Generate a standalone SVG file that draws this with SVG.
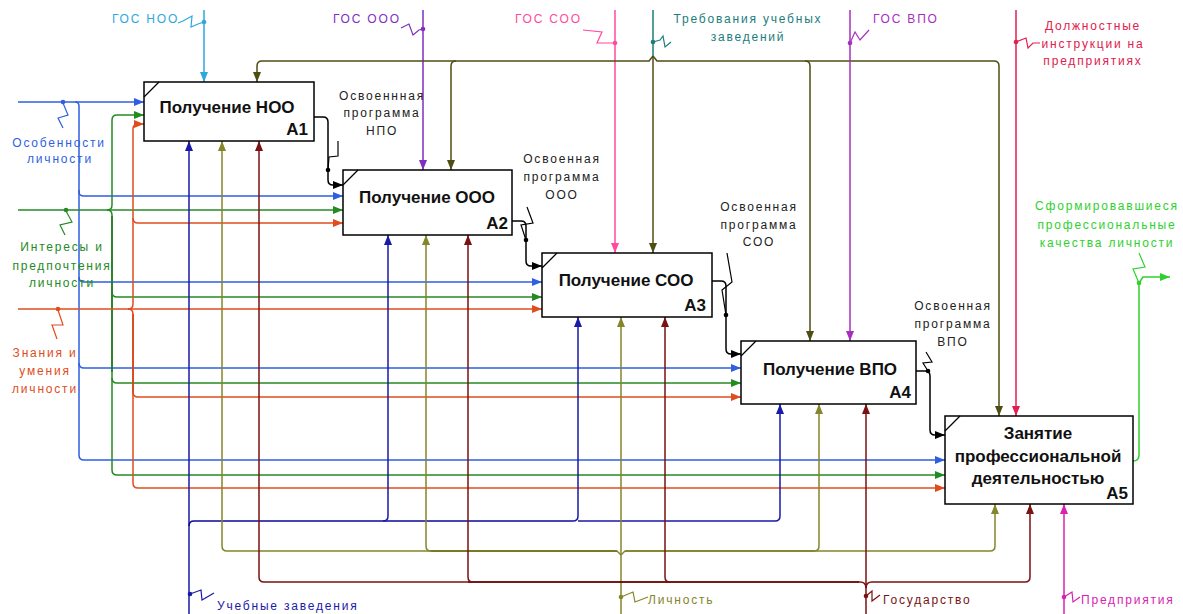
<svg xmlns="http://www.w3.org/2000/svg" width="1183" height="614" viewBox="0 0 1183 614">
<style>
.c{fill:none;stroke-width:1.5;stroke-linejoin:round}
.sq{fill:none;stroke-width:1.2;stroke-linejoin:miter}
.box{fill:#fff;stroke:#000;stroke-width:1.5}
.bt{font-family:"Liberation Sans",Arial,sans-serif;font-weight:bold;font-size:17px;fill:#111}
.lb{font-family:"Liberation Sans",Arial,sans-serif;font-size:12px;letter-spacing:1.8px}
.mid{text-anchor:middle}
</style>
<defs>
<marker id="a-lb" viewBox="0 0 10 8" refX="10" refY="4" markerWidth="10" markerHeight="8" orient="auto" markerUnits="userSpaceOnUse"><path d="M0,0 L10,4 L0,8 z" fill="#2ea8dc"/></marker>
<marker id="a-pu" viewBox="0 0 10 8" refX="10" refY="4" markerWidth="10" markerHeight="8" orient="auto" markerUnits="userSpaceOnUse"><path d="M0,0 L10,4 L0,8 z" fill="#7f2fbf"/></marker>
<marker id="a-pk" viewBox="0 0 10 8" refX="10" refY="4" markerWidth="10" markerHeight="8" orient="auto" markerUnits="userSpaceOnUse"><path d="M0,0 L10,4 L0,8 z" fill="#ff4aa0"/></marker>
<marker id="a-od" viewBox="0 0 10 8" refX="10" refY="4" markerWidth="10" markerHeight="8" orient="auto" markerUnits="userSpaceOnUse"><path d="M0,0 L10,4 L0,8 z" fill="#4e4e14"/></marker>
<marker id="a-vp" viewBox="0 0 10 8" refX="10" refY="4" markerWidth="10" markerHeight="8" orient="auto" markerUnits="userSpaceOnUse"><path d="M0,0 L10,4 L0,8 z" fill="#a62fc0"/></marker>
<marker id="a-cr" viewBox="0 0 10 8" refX="10" refY="4" markerWidth="10" markerHeight="8" orient="auto" markerUnits="userSpaceOnUse"><path d="M0,0 L10,4 L0,8 z" fill="#e0204e"/></marker>
<marker id="a-bl" viewBox="0 0 10 8" refX="10" refY="4" markerWidth="10" markerHeight="8" orient="auto" markerUnits="userSpaceOnUse"><path d="M0,0 L10,4 L0,8 z" fill="#2f5fe0"/></marker>
<marker id="a-gr" viewBox="0 0 10 8" refX="10" refY="4" markerWidth="10" markerHeight="8" orient="auto" markerUnits="userSpaceOnUse"><path d="M0,0 L10,4 L0,8 z" fill="#248a24"/></marker>
<marker id="a-or" viewBox="0 0 10 8" refX="10" refY="4" markerWidth="10" markerHeight="8" orient="auto" markerUnits="userSpaceOnUse"><path d="M0,0 L10,4 L0,8 z" fill="#e04d1c"/></marker>
<marker id="a-db" viewBox="0 0 10 8" refX="10" refY="4" markerWidth="10" markerHeight="8" orient="auto" markerUnits="userSpaceOnUse"><path d="M0,0 L10,4 L0,8 z" fill="#1a1aa8"/></marker>
<marker id="a-ol" viewBox="0 0 10 8" refX="10" refY="4" markerWidth="10" markerHeight="8" orient="auto" markerUnits="userSpaceOnUse"><path d="M0,0 L10,4 L0,8 z" fill="#85852a"/></marker>
<marker id="a-mr" viewBox="0 0 10 8" refX="10" refY="4" markerWidth="10" markerHeight="8" orient="auto" markerUnits="userSpaceOnUse"><path d="M0,0 L10,4 L0,8 z" fill="#7a1212"/></marker>
<marker id="a-mg" viewBox="0 0 10 8" refX="10" refY="4" markerWidth="10" markerHeight="8" orient="auto" markerUnits="userSpaceOnUse"><path d="M0,0 L10,4 L0,8 z" fill="#d822b0"/></marker>
<marker id="a-bk" viewBox="0 0 10 8" refX="10" refY="4" markerWidth="10" markerHeight="8" orient="auto" markerUnits="userSpaceOnUse"><path d="M0,0 L10,4 L0,8 z" fill="#000"/></marker>
<marker id="a-lg" viewBox="0 0 10 8" refX="10" refY="4" markerWidth="10" markerHeight="8" orient="auto" markerUnits="userSpaceOnUse"><path d="M0,0 L10,4 L0,8 z" fill="#2fd12f"/></marker>
</defs>
<rect width="1183" height="614" fill="#fff"/>
<g id="connectors">
<g stroke="#2ea8dc" fill="#2ea8dc">
<path class="c" d="M204,10 V82" marker-end="url(#a-lb)"/>
<path class="sq" d="M178,23 L183,21 L192,16 L191,27 L198,24 L204,22"/>
<circle cx="204" cy="22" r="2.3" stroke="none"/>
</g>
<g stroke="#7f2fbf" fill="#7f2fbf">
<path class="c" d="M423,10 V170" marker-end="url(#a-pu)"/>
<path class="sq" d="M401,28 L409,24 L413,35 L419,30 L423,29"/>
<circle cx="423" cy="29" r="2.3" stroke="none"/>
</g>
<g stroke="#ff4aa0" fill="#ff4aa0">
<path class="c" d="M615,10 V253" marker-end="url(#a-pk)"/>
<path class="sq" d="M583,30 L602,32 L597,43 L615,43"/>
<circle cx="615" cy="43" r="2.3" stroke="none"/>
</g>
<g stroke="#1b7d7d" fill="#1b7d7d">
<path class="c" d="M653,10 V57"/>
<path class="sq" d="M653,42 L660,40 L663,36 L665,47 L671,42"/>
<circle cx="653" cy="42" r="2.3" stroke="none"/>
</g>
<g stroke="#4e4e14">
<path class="c" stroke-width="2" d="M653,56 L649,61 H262 Q257,61 257,66 V82" marker-end="url(#a-od)"/>
<path class="c" stroke-width="2" d="M456,61 Q451,61 451,66 V170" marker-end="url(#a-od)"/>
<path class="c" stroke-width="2" d="M653,56 V253" marker-end="url(#a-od)"/>
<path class="c" stroke-width="2" d="M653,56 L657,61 H805 Q810,61 810,66 V341" marker-end="url(#a-od)"/>
<path class="c" stroke-width="2" d="M805,61 H994 Q999,61 999,66 V416" marker-end="url(#a-od)"/>
</g>
<g stroke="#a62fc0" fill="#a62fc0">
<path class="c" d="M850,10 V341" marker-end="url(#a-vp)"/>
<path class="sq" d="M850,43 L855,32 L860,40 L869,30"/>
<circle cx="850" cy="43" r="2.3" stroke="none"/>
</g>
<g stroke="#e0204e" fill="#e0204e">
<path class="c" d="M1016,10 V416" marker-end="url(#a-cr)"/>
<path class="sq" d="M1016,42 L1026,38 L1028,48 L1033,43 L1040,43"/>
<circle cx="1016" cy="42" r="2.3" stroke="none"/>
</g>
<g stroke="#2f5fe0" fill="#2f5fe0">
<path class="c" d="M18,102 H144" marker-end="url(#a-bl)"/>
<path class="c" stroke-width="3.8" d="M75,102 Q79,102 79,106 V192"/>
<path class="c" d="M79,190 V455 Q79,460 84,460 H945" marker-end="url(#a-bl)"/>
<path class="c" d="M79,192 Q79,196 84,196 H343" marker-end="url(#a-bl)"/>
<path class="c" d="M79,277 Q79,282 84,282 H542" marker-end="url(#a-bl)"/>
<path class="c" d="M79,363 Q79,368 84,368 H741" marker-end="url(#a-bl)"/>
<path class="sq" d="M63,103 L68,115 L58,118 L63,128"/>
<circle cx="63" cy="102" r="2.3" stroke="none"/>
</g>
<g stroke="#248a24" fill="#248a24">
<path class="c" d="M18,210 H343" marker-end="url(#a-gr)"/>
<path class="c" d="M107,210 Q112,210 112,205 V120 Q112,115 117,115 H144" marker-end="url(#a-gr)"/>
<path class="c" d="M107,210 Q112,210 112,215 V470 Q112,475 117,475 H945" marker-end="url(#a-gr)"/>
<path class="c" stroke-width="3.8" stroke="#1c7a1c" d="M112,216 V372"/>
<path class="c" d="M112,292 Q112,297 117,297 H542" marker-end="url(#a-gr)"/>
<path class="c" d="M112,378 Q112,383 117,383 H741" marker-end="url(#a-gr)"/>
<path class="sq" d="M66,211 L72,222 L60,225 L65,235"/>
<circle cx="66" cy="210" r="2.3" stroke="none"/>
</g>
<g stroke="#e04d1c" fill="#e04d1c">
<path class="c" d="M18,309 H542" marker-end="url(#a-or)"/>
<path class="c" d="M128,309 Q133,309 133,304 V129 Q133,124 138,124 H144" marker-end="url(#a-or)"/>
<path class="c" d="M133,218 Q133,223 138,223 H343" marker-end="url(#a-or)"/>
<path class="c" d="M128,309 Q133,309 133,314 V483 Q133,488 138,488 H945" marker-end="url(#a-or)"/>
<path class="c" stroke-width="3.8" stroke="#d2400f" d="M133,314 V393"/>
<path class="c" d="M133,392 Q133,397 138,397 H741" marker-end="url(#a-or)"/>
<path class="sq" d="M58,310 L63,325 L52,325 L57,339"/>
<circle cx="58" cy="309" r="2.3" stroke="none"/>
</g>
<g stroke="#1a1aa8" fill="#1a1aa8">
<path class="c" d="M189,614 V141" marker-end="url(#a-db)"/>
<path class="c" stroke-width="5" stroke="#0a0a9a" d="M189,526 Q189,521 194,521 H383"/>
<path class="c" stroke-width="4" stroke="#0a0a9a" d="M383,521 H573"/>
<path class="c" d="M383,521 Q388,521 388,516 V235" marker-end="url(#a-db)"/>
<path class="c" d="M573,521 Q578,521 578,516 V317" marker-end="url(#a-db)"/>
<path class="c" d="M578,521 H775 Q780,521 780,516 V404" marker-end="url(#a-db)"/>
<path class="sq" d="M190,594 L201,590 L202,600 L214,593"/>
<circle cx="190" cy="594" r="2.3" stroke="none"/>
</g>
<g stroke="#85852a" fill="#85852a">
<path class="c" d="M621,614 V317" marker-end="url(#a-ol)"/>
<path class="c" d="M621,555 L617,551 H227 Q222,551 222,546 V141" marker-end="url(#a-ol)"/>
<path class="c" stroke-width="3.5" stroke="#6e6e14" d="M431,551 H617 M625,551 H814"/>
<path class="c" d="M431,551 Q426,551 426,546 V235" marker-end="url(#a-ol)"/>
<path class="c" d="M814,551 Q819,551 819,546 V404" marker-end="url(#a-ol)"/>
<path class="c" d="M621,555 L625,551 H990 Q995,551 995,546 V504" marker-end="url(#a-ol)"/>
<path class="sq" d="M621,597 L633,592 L635,602 L648,597"/>
<circle cx="621" cy="597" r="2.3" stroke="none"/>
</g>
<g stroke="#7a1212" fill="#7a1212">
<path class="c" d="M866,614 V404" marker-end="url(#a-mr)"/>
<path class="c" d="M866,588 Q866,582 860,582 H264 Q259,582 259,577 V141" marker-end="url(#a-mr)"/>
<path class="c" stroke-width="3.5" stroke="#6a0808" d="M468,582 H665"/>
<path class="c" stroke-width="4.5" stroke="#6a0808" d="M665,582 H859"/>
<path class="c" d="M473,582 Q468,582 468,577 V235" marker-end="url(#a-mr)"/>
<path class="c" d="M670,582 Q665,582 665,577 V317" marker-end="url(#a-mr)"/>
<path class="c" d="M866,588 Q866,582 872,582 H1025 Q1030,582 1030,577 V504" marker-end="url(#a-mr)"/>
<path class="sq" d="M866,596 L872,591 L872,601 L880,595"/>
<circle cx="866" cy="596" r="2.3" stroke="none"/>
</g>
<g stroke="#d822b0" fill="#d822b0">
<path class="c" d="M1064,614 V504" marker-end="url(#a-mg)"/>
<path class="sq" d="M1064,597 L1072,592 L1073,602 L1080,597"/>
<circle cx="1064" cy="597" r="2.3" stroke="none"/>
</g>
<g stroke="#000" fill="#000">
<path class="c" d="M314,117 H323 Q328,117 328,122 V180 Q328,185 333,185 H343" marker-end="url(#a-bk)"/>
<path class="c" d="M512,221 H521 Q526,221 526,226 V261 Q526,266 531,266 H542" marker-end="url(#a-bk)"/>
<path class="c" d="M712,281 H721 Q726,281 726,286 V349 Q726,354 731,354 H741" marker-end="url(#a-bk)"/>
<path class="c" d="M916,371 H925 Q930,371 930,376 V430 Q930,435 935,435 H945" marker-end="url(#a-bk)"/>
<path class="sq" d="M328,170 L329,157 L338,156 L338,141"/>
<path class="sq" d="M526,240 L521,225 L533,223 L527,207"/>
<path class="sq" d="M726,315 L722,290 L732,282 L727,253"/>
<path class="sq" d="M928,371 L923,363 L932,362 L926,352"/>
<circle cx="328" cy="170" r="2.3" stroke="none"/>
<circle cx="526" cy="240" r="2.3" stroke="none"/>
<circle cx="726" cy="315" r="2.3" stroke="none"/>
<circle cx="928" cy="371" r="2.3" stroke="none"/>
</g>
<g stroke="#2fd12f" fill="#2fd12f">
<path class="c" d="M1133,461 Q1139,461 1139,455 V283 L1143,277 H1170" marker-end="url(#a-lg)"/>
<path class="sq" d="M1139,283 L1133,269 L1145,267 L1139,253"/>
<circle cx="1139" cy="283" r="2.3" stroke="none"/>
</g>
</g>
<g id="A1">
<rect class="box" x="144" y="82" width="170" height="59"/>
<path d="M144,97 L159,82" stroke="#000" stroke-width="1.3"/>
<text class="bt" x="227" y="113" text-anchor="middle">Получение НОО</text>
<text class="bt" x="308" y="135" text-anchor="end">A1</text>
</g>
<g id="A2">
<rect class="box" x="343" y="170" width="169" height="65"/>
<path d="M343,185 L358,170" stroke="#000" stroke-width="1.3"/>
<text class="bt" x="427" y="203" text-anchor="middle">Получение ООО</text>
<text class="bt" x="508" y="229" text-anchor="end">A2</text>
</g>
<g id="A3">
<rect class="box" x="542" y="253" width="170" height="64"/>
<path d="M542,268 L557,253" stroke="#000" stroke-width="1.3"/>
<text class="bt" x="626" y="286" text-anchor="middle">Получение СОО</text>
<text class="bt" x="706" y="311" text-anchor="end">A3</text>
</g>
<g id="A4">
<rect class="box" x="741" y="341" width="175" height="63"/>
<path d="M741,356 L756,341" stroke="#000" stroke-width="1.3"/>
<text class="bt" x="830" y="375" text-anchor="middle">Получение ВПО</text>
<text class="bt" x="911" y="398" text-anchor="end">A4</text>
</g>
<g id="A5">
<rect class="box" x="945" y="416" width="188" height="88"/>
<path d="M945,431 L960,416" stroke="#000" stroke-width="1.3"/>
<text class="bt" x="1038" y="439" text-anchor="middle">Занятие</text>
<text class="bt" x="1038" y="462" text-anchor="middle">профессиональной</text>
<text class="bt" x="1038" y="484" text-anchor="middle">деятельностью</text>
<text class="bt" x="1128" y="499" text-anchor="end">A5</text>
</g>
<g id="labels" class="lb">
<text x="112" y="23" fill="#2ea8dc">ГОС НОО</text>
<text x="333" y="23" fill="#7f2fbf">ГОС ООО</text>
<text x="515" y="23" fill="#ff4aa0">ГОС СОО</text>
<text class="mid" x="748" y="23" fill="#1b7d7d">Требования учебных</text>
<text class="mid" x="748" y="41" fill="#1b7d7d">заведений</text>
<text x="873" y="23" fill="#a62fc0">ГОС ВПО</text>
<text class="mid" x="1093" y="30" fill="#e0204e">Должностные</text>
<text class="mid" x="1093" y="48" fill="#e0204e">инструкции на</text>
<text class="mid" x="1093" y="65" fill="#e0204e">предприятиях</text>
<text class="mid" x="1107" y="210" fill="#2fd12f">Сформировавшиеся</text>
<text class="mid" x="1107" y="229" fill="#2fd12f">профессиональные</text>
<text class="mid" x="1107" y="247" fill="#2fd12f">качества личности</text>
<text class="mid" x="59" y="147" fill="#2f5fe0">Особенности</text>
<text class="mid" x="60" y="163" fill="#2f5fe0">личности</text>
<text class="mid" x="62" y="251" fill="#248a24">Интересы и</text>
<text class="mid" x="62" y="270" fill="#248a24">предпочтения</text>
<text class="mid" x="62" y="287" fill="#248a24">личности</text>
<text class="mid" x="45" y="357" fill="#e04d1c">Знания и</text>
<text class="mid" x="45" y="375" fill="#e04d1c">умения</text>
<text class="mid" x="45" y="393" fill="#e04d1c">личности</text>
<text x="217" y="610" fill="#1a1aa8">Учебные заведения</text>
<text x="648" y="604" fill="#85852a">Личность</text>
<text x="883" y="604" fill="#7a1212">Государство</text>
<text x="1081" y="604" fill="#d822b0">Предприятия</text>
<text class="mid" x="382" y="100" fill="#222">Освоеннная</text>
<text class="mid" x="382" y="117" fill="#222">программа</text>
<text class="mid" x="382" y="135" fill="#222">НПО</text>
<text class="mid" x="562" y="163" fill="#222">Освоенная</text>
<text class="mid" x="562" y="181" fill="#222">программа</text>
<text class="mid" x="562" y="199" fill="#222">ООО</text>
<text class="mid" x="759" y="211" fill="#222">Освоенная</text>
<text class="mid" x="759" y="229" fill="#222">программа</text>
<text class="mid" x="759" y="246" fill="#222">СОО</text>
<text class="mid" x="953" y="310" fill="#222">Освоенная</text>
<text class="mid" x="953" y="328" fill="#222">программа</text>
<text class="mid" x="953" y="346" fill="#222">ВПО</text>
</g>
</svg>
